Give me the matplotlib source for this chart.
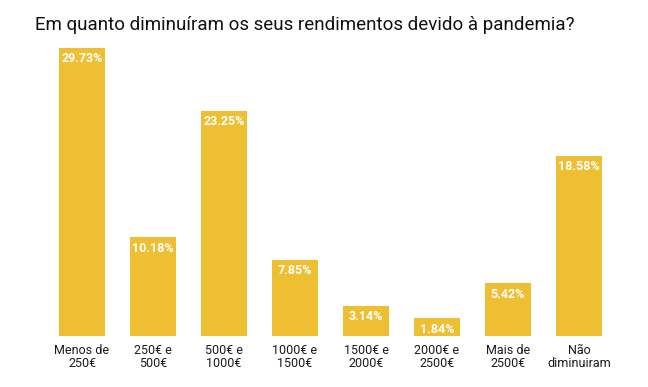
import matplotlib.pyplot as plt

categories = ["Menos de\n250€", "250€ e\n500€", "500€ e\n1000€", "1000€ e\n1500€",
              "1500€ e\n2000€", "2000€ e\n2500€", "Mais de\n2500€", "Não\ndiminuiram"]
values = [29.73, 10.18, 23.25, 7.85, 3.14, 1.84, 5.42, 18.58]

plt.rcParams['font.family'] = ['Roboto', 'DejaVu Sans']

W, H = 648, 387
fig = plt.figure(figsize=(W / 100, H / 100), dpi=100)
ax = fig.add_axes([46.5 / W, 1 - 336 / H, (614.5 - 46.5) / W, (336 - 45.3) / H])

color = '#EFBF33'
x = range(len(categories))
bars = ax.bar(x, values, width=0.65, color=color)

for b, v in zip(bars, values):
    ax.annotate(f"{v:.2f}%", (b.get_x() + b.get_width() / 2, v),
                xytext=(0, -11), textcoords='offset pixels',
                ha='center', va='center', color='white', fontsize=9, fontweight='bold')

ax.set_xlim(-0.5, len(categories) - 0.5)
ax.set_ylim(0, 30)
ax.set_xticks(list(x))
ax.set_xticklabels(categories, fontsize=9, color='#1a1a1a', linespacing=1.0)
ax.tick_params(axis='x', length=0, pad=6)
ax.set_yticks([])
for s in ax.spines.values():
    s.set_visible(False)

fig.text(35 / W, 1 - 25 / H, "Em quanto diminuíram os seus rendimentos devido à pandemia?",
         fontsize=13.5, color='#111111', va='center', ha='left')

fig.savefig('out.png', dpi=100)
